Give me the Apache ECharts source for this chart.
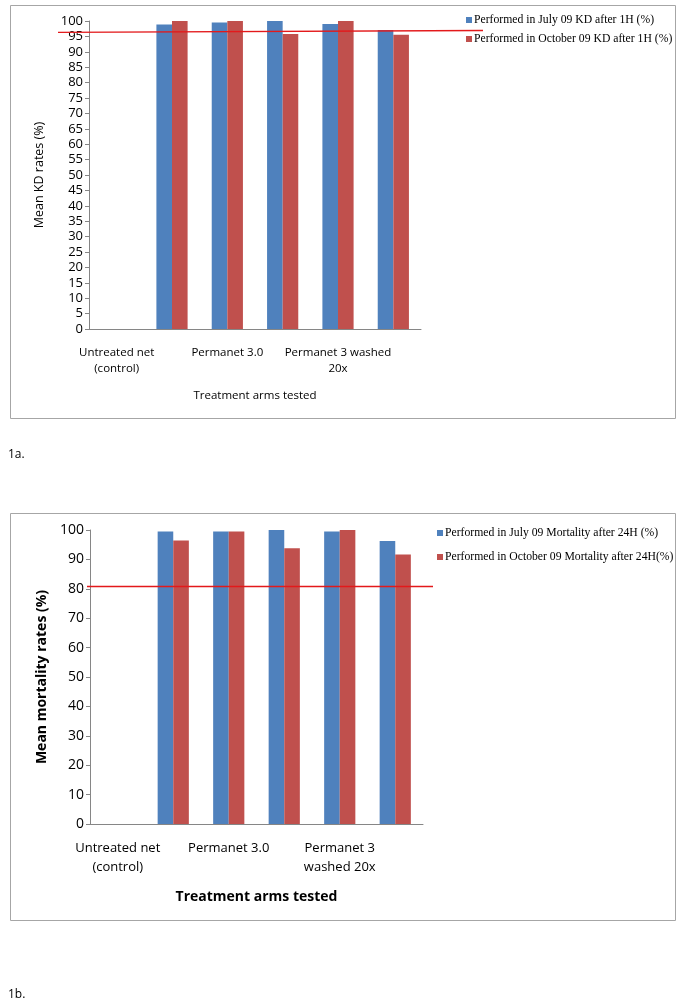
<!DOCTYPE html>
<html>
<head>
<meta charset="utf-8">
<script src="https://cdn.jsdelivr.net/npm/echarts@6/dist/echarts.min.js"></script>
<style>
html,body{margin:0;padding:0;background:#fff;}
#c{width:685px;height:1005px;}
</style>
</head>
<body>
<div id="c"></div>
<script>
// Categories (hidden labels unknown in the reference are left blank)
const categoriesA = ['Untreated net\n(control)', '', 'Permanet 3.0', '', 'Permanet 3 washed\n20x', ''];
const categoriesB = ['Untreated net\n(control)', '', 'Permanet 3.0', '', 'Permanet 3\nwashed 20x', ''];

// Figure 1a: knock-down after 1H (%)
const seriesNamesA = ['Performed in July 09 KD after 1H (%)', 'Performed in October 09 KD after 1H (%)'];
const julyKD = [0, 98.9, 99.5, 100, 99.0, 97.1];
const octKD = [0, 100, 100, 95.8, 100, 95.5];
const yTicksA = {min: 0, max: 100, interval: 5};
// hand-drawn threshold line in 1a: [start..end fraction of its own span, value]
const thresholdA = [[0, 96.3], [1, 96.9]];

// Figure 1b: mortality after 24H (%)
const seriesNamesB = ['Performed in July 09 Mortality after 24H (%)', 'Performed in October 09 Mortality after 24H(%)'];
const julyMort = [0, 99.5, 99.5, 100, 99.5, 96.3];
const octMort = [0, 96.4, 99.5, 93.8, 100, 91.7];
const yTicksB = {min: 0, max: 100, interval: 10};
const thresholdB = [[0, 80.8], [1, 80.8]];

const BLUE = '#4F81BD', RED = '#C0504D', LINE = '#E3191B';
const SANS = 'Open Sans', SERIF = 'Liberation Serif';

const chart = echarts.init(document.getElementById('c'), null, {renderer: 'canvas'});

function catAxis(grid, cats, fs, lh, margin, name, bold, nameGap) {
  return {
    type: 'category', gridIndex: grid, data: cats,
    axisLine: {lineStyle: {color: '#868686', width: 1}},
    axisTick: {show: false},
    axisLabel: {interval: 0, color: '#000', fontFamily: SANS, fontSize: fs, lineHeight: lh, margin: margin},
    name: name, nameLocation: 'middle', nameGap: nameGap,
    nameTextStyle: {color: '#000', fontFamily: SANS, fontSize: fs + (bold ? 1 : 0), fontWeight: bold ? 'bold' : 'normal'}
  };
}
function hiddenValX(grid) {
  return {type: 'value', gridIndex: grid, min: 0, max: 1, show: false};
}
function hiddenValY(grid, t) {
  return {type: 'value', gridIndex: grid, min: t.min, max: t.max, show: false};
}
function valAxis(grid, t, fs, name, bold, nameGap) {
  return {
    type: 'value', gridIndex: grid, min: t.min, max: t.max, interval: t.interval,
    splitLine: {show: false},
    axisLine: {show: true, lineStyle: {color: '#868686', width: 1}},
    axisTick: {show: true, length: 4, lineStyle: {color: '#868686'}},
    axisLabel: {color: '#000', fontFamily: SANS, fontSize: fs, margin: 6},
    name: name, nameLocation: 'middle', nameGap: nameGap, nameRotate: 90,
    nameTextStyle: {color: '#000', fontFamily: SANS, fontSize: bold ? 14 : 12.5, fontWeight: bold ? 'bold' : 'normal'}
  };
}
function bar(name, data, color, xi, yi) {
  return {
    type: 'bar', name: name, data: data, xAxisIndex: xi, yAxisIndex: yi,
    itemStyle: {color: color}, barWidth: 15.6, barGap: '0%', animation: false, silent: true
  };
}
function threshold(data, xi, yi) {
  return {
    type: 'line', name: 'threshold', data: data, xAxisIndex: xi, yAxisIndex: yi,
    symbol: 'none', silent: true, animation: false, z: 5,
    lineStyle: {color: LINE, width: 1.4}
  };
}
function legend(names, left, top, gap) {
  return {
    data: names, orient: 'vertical', left: left, top: top, itemGap: gap,
    itemWidth: 6, itemHeight: 6, icon: 'rect', selectedMode: false,
    textStyle: {color: '#000', fontFamily: SERIF, fontSize: 11.7, padding: [0, 0, 0, -3]}
  };
}

chart.setOption({
  animation: false,
  backgroundColor: '#fff',
  grid: [
    {left: 89, top: 21, width: 332, height: 308},
    {left: 90, top: 530, width: 333, height: 294},
    // spans of the hand-drawn threshold lines (same vertical extent as the plots)
    {left: 58, top: 21, width: 425, height: 308},
    {left: 87, top: 530, width: 346, height: 294}
  ],
  xAxis: [
    catAxis(0, categoriesA, 11.5, 16, 16, 'Treatment arms tested', false, 61),
    catAxis(1, categoriesB, 13, 19, 15, 'Treatment arms tested', true, 66),
    hiddenValX(2), hiddenValX(3)
  ],
  yAxis: [
    valAxis(0, yTicksA, 13, 'Mean KD rates (%)', false, 43),
    valAxis(1, yTicksB, 14, 'Mean mortality rates (%)', true, 41),
    hiddenValY(2, yTicksA), hiddenValY(3, yTicksB)
  ],
  legend: [
    legend(seriesNamesA, 461, 9, 7),
    legend(seriesNamesB, 432, 522, 12)
  ],
  series: [
    bar(seriesNamesA[0], julyKD, BLUE, 0, 0),
    bar(seriesNamesA[1], octKD, RED, 0, 0),
    threshold(thresholdA, 2, 2),
    bar(seriesNamesB[0], julyMort, BLUE, 1, 1),
    bar(seriesNamesB[1], octMort, RED, 1, 1),
    threshold(thresholdB, 3, 3)
  ],
  graphic: [
    {type: 'rect', shape: {x: 10.5, y: 5.5, width: 665, height: 413}, style: {fill: 'none', stroke: '#a6a6a6', lineWidth: 1}, silent: true},
    {type: 'rect', shape: {x: 10.5, y: 513.5, width: 665, height: 407}, style: {fill: 'none', stroke: '#a6a6a6', lineWidth: 1}, silent: true},
    {type: 'text', left: 8, top: 449, style: {text: '1a.', fill: '#000', font: '12px "Open Sans"'}, silent: true},
    {type: 'text', left: 8, top: 989, style: {text: '1b.', fill: '#000', font: '12px "Open Sans"'}, silent: true}
  ]
});
</script>
</body>
</html>
